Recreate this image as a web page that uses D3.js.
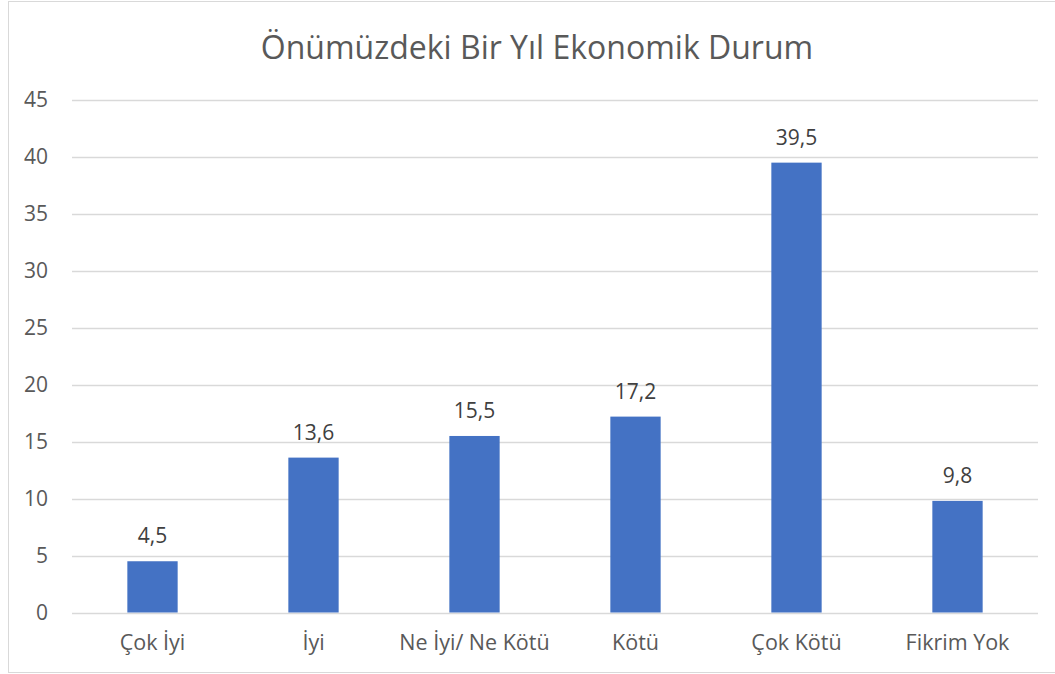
<!DOCTYPE html>
<html>
<head>
<meta charset="utf-8">
<script src="https://cdn.jsdelivr.net/npm/d3@7"></script>
<style>
  body { margin: 0; background: #fff; }
  text { font-family: "Open Sans", "Noto Sans", sans-serif; }
</style>
</head>
<body>
<svg id="chart" width="1055" height="674"></svg>
<script>
// Chart data
const title = "Önümüzdeki Bir Yıl Ekonomik Durum";
const categories = ["Çok İyi", "İyi", "Ne İyi/ Ne Kötü", "Kötü", "Çok Kötü", "Fikrim Yok"];
const values = [4.5, 13.6, 15.5, 17.2, 39.5, 9.8];
const yTicks = [0, 5, 10, 15, 20, 25, 30, 35, 40, 45];

const width = 1055;
const height = 674;
const margin = { top: 100, right: 17, bottom: 61.5, left: 72 };

const svg = d3.select("#chart");

// outer chart border
svg.append("rect")
    .attr("x", 8.5)
    .attr("y", 1.5)
    .attr("width", 1060)
    .attr("height", 671)
    .attr("fill", "none")
    .attr("stroke", "#d9d9d9")
    .attr("stroke-width", 1);

const x = d3.scaleBand()
    .domain(categories)
    .range([margin.left, width - margin.right])
    .paddingInner(0.6875)
    .paddingOuter(0.34375);

const y = d3.scaleLinear()
    .domain([0, 45])
    .range([height - margin.bottom, margin.top]);

// gridlines
svg.append("g")
    .selectAll("line")
    .data(yTicks)
    .join("line")
    .attr("x1", margin.left)
    .attr("x2", width - margin.right)
    .attr("y1", d => Math.round(y(d)) + 0.5)
    .attr("y2", d => Math.round(y(d)) + 0.5)
    .attr("stroke", "#d9d9d9")
    .attr("stroke-width", 1.5);

// y axis labels
const yAxis = d3.axisLeft(y).tickValues(yTicks).tickSize(0).tickPadding(0);
svg.append("g")
    .attr("transform", `translate(48,0)`)
    .call(yAxis)
    .call(g => g.select(".domain").remove())
    .call(g => g.selectAll("text")
        .attr("fill", "#595959")
        .style("font-size", "21px")
        .style("font-family", "'Open Sans', sans-serif"));

// bars
svg.append("g")
    .selectAll("rect")
    .data(values)
    .join("rect")
    .attr("x", (d, i) => x(categories[i]))
    .attr("y", d => y(d))
    .attr("width", x.bandwidth())
    .attr("height", d => y(0) - y(d))
    .attr("fill", "#4472c4");

// data labels
svg.append("g")
    .selectAll("text")
    .data(values)
    .join("text")
    .attr("x", (d, i) => x(categories[i]) + x.bandwidth() / 2)
    .attr("y", d => y(d) - 18)
    .attr("text-anchor", "middle")
    .attr("fill", "#404040")
    .style("font-size", "21px")
    .text(d => d.toString().replace(".", ","));

// x axis labels
const xAxis = d3.axisBottom(x).tickSize(0).tickPadding(0);
svg.append("g")
    .attr("transform", `translate(0,${y(0)})`)
    .call(xAxis)
    .call(g => g.select(".domain").remove())
    .call(g => g.selectAll("text")
        .attr("dy", null)
        .attr("y", 37)
        .attr("fill", "#595959")
        .style("font-size", "21.5px")
        .style("font-family", "'Open Sans', sans-serif"));

// title
svg.append("text")
    .attr("x", 537)
    .attr("y", 59)
    .attr("text-anchor", "middle")
    .attr("fill", "#595959")
    .style("font-size", "32px")
    .text(title);
</script>
</body>
</html>
